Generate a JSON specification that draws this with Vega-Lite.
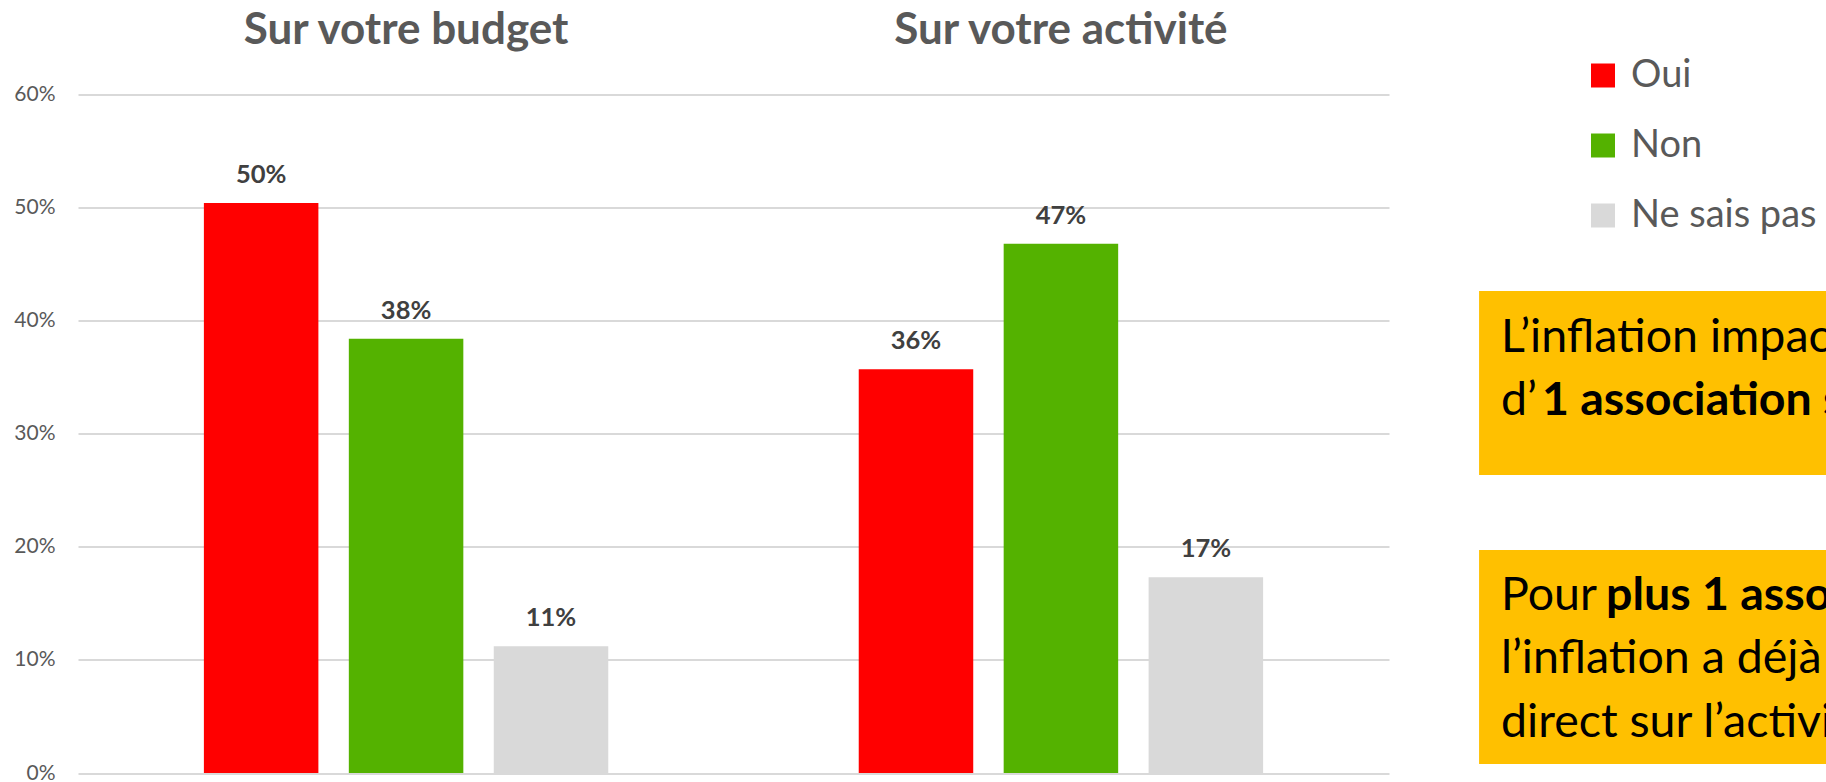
{
  "$schema": "https://vega.github.io/schema/vega-lite/v6.json",
  "autosize": {"type": "none"},
  "padding": {"left": 78, "top": 94.5, "right": 437, "bottom": 9},
  "width": 1311,
  "height": 678.5,
  "background": "white",
  "config": {"view": {"stroke": null}},
  "datasets": {
    "reponses": [
      {"cible": "Sur votre budget", "reponse": "Oui", "part": 0.504},
      {"cible": "Sur votre budget", "reponse": "Non", "part": 0.384},
      {"cible": "Sur votre budget", "reponse": "Ne sais pas", "part": 0.112},
      {"cible": "Sur votre activité", "reponse": "Oui", "part": 0.357},
      {"cible": "Sur votre activité", "reponse": "Non", "part": 0.468},
      {"cible": "Sur votre activité", "reponse": "Ne sais pas", "part": 0.173}
    ],
    "encadres": [
      {"x0": 1.0687, "x1": 1.35, "y0": 0.4262, "y1": 0.2635},
      {"x0": 1.0687, "x1": 1.35, "y0": 0.1972, "y1": 0.008}
    ],
    "lignes": [
      {"texte": "L’inflation impacte le budget", "x": 1.0854, "y": 0.3722, "gras": 0},
      {"texte": "d’", "x": 1.0854, "y": 0.3165, "gras": 0},
      {"texte": "1 association sur 2", "x": 1.1167, "y": 0.3165, "gras": 1},
      {"texte": "Pour", "x": 1.0854, "y": 0.1441, "gras": 0},
      {"texte": "plus 1 association sur 3,", "x": 1.1655, "y": 0.1441, "gras": 1},
      {"texte": "l’inflation a déjà eu un impact", "x": 1.0854, "y": 0.0884, "gras": 0},
      {"texte": "direct sur l’activité", "x": 1.0854, "y": 0.0318, "gras": 0}
    ]
  },
  "layer": [
    {
      "data": {"name": "reponses"},
      "encoding": {
        "x": {
          "field": "cible",
          "type": "nominal",
          "sort": ["Sur votre budget", "Sur votre activité"],
          "scale": {"paddingInner": 0.336, "paddingOuter": 0.169},
          "axis": {
            "orient": "top",
            "title": null,
            "ticks": false,
            "domain": false,
            "grid": false,
            "labelAngle": 0,
            "labelLimit": 0,
            "labelFont": "Lato, sans-serif",
            "labelFontSize": 44,
            "labelFontWeight": "bold",
            "labelColor": "#595959",
            "labelPadding": 51,
            "labelBaseline": "alphabetic"
          }
        },
        "xOffset": {
          "field": "reponse",
          "type": "nominal",
          "sort": ["Oui", "Non", "Ne sais pas"],
          "scale": {"paddingInner": 0.21, "paddingOuter": 0.105}
        },
        "y": {
          "field": "part",
          "type": "quantitative",
          "scale": {"domain": [0, 0.6], "nice": false},
          "axis": {
            "title": null,
            "format": ".0%",
            "values": [0, 0.1, 0.2, 0.3, 0.4, 0.5, 0.6],
            "ticks": false,
            "domain": false,
            "grid": true,
            "gridColor": "#d9d9d9",
            "gridWidth": 2,
            "labelFont": "Lato, sans-serif",
            "labelFontSize": 21,
            "labelColor": "#595959",
            "labelPadding": 23
          }
        }
      },
      "layer": [
        {
          "mark": {"type": "bar"},
          "encoding": {
            "color": {
              "field": "reponse",
              "type": "nominal",
              "sort": ["Oui", "Non", "Ne sais pas"],
              "scale": {"domain": ["Oui", "Non", "Ne sais pas"], "range": ["#ff0000", "#54b200", "#d9d9d9"]},
              "legend": {
                "title": null,
                "orient": "none",
                "legendX": 1506,
                "legendY": -38,
                "padding": 0,
                "symbolType": "square",
                "symbolSize": 576,
                "symbolStrokeWidth": 0,
                "symbolOpacity": 1,
                "labelLimit": 0,
                "labelFont": "Lato, sans-serif",
                "labelFontSize": 38,
                "labelColor": "#595959",
                "labelOffset": 9,
                "rowPadding": 32
              }
            }
          }
        },
        {
          "mark": {
            "type": "text",
            "baseline": "alphabetic",
            "dy": -20,
            "font": "Lato, sans-serif",
            "fontSize": 25.5,
            "fontWeight": "bold",
            "color": "#404040"
          },
          "encoding": {
            "text": {"field": "part", "type": "quantitative", "format": ".0%"}
          }
        }
      ]
    },
    {
      "data": {"name": "encadres"},
      "mark": {"type": "rect", "color": "#ffc000"},
      "encoding": {
        "x": {"field": "x0", "type": "quantitative", "scale": {"domain": [0, 1], "nice": false, "zero": false}, "axis": null},
        "x2": {"field": "x1"},
        "y": {"field": "y0", "type": "quantitative", "scale": {"domain": [0, 0.6], "nice": false}, "axis": null},
        "y2": {"field": "y1"}
      }
    },
    {
      "data": {"name": "lignes"},
      "transform": [{"filter": "datum.gras == 0"}],
      "mark": {"type": "text", "align": "left", "baseline": "alphabetic", "font": "Lato, sans-serif", "fontSize": 46.5, "color": "#000000"},
      "encoding": {
        "x": {"field": "x", "type": "quantitative", "scale": {"domain": [0, 1], "nice": false, "zero": false}, "axis": null},
        "y": {"field": "y", "type": "quantitative", "scale": {"domain": [0, 0.6], "nice": false}, "axis": null},
        "text": {"field": "texte"}
      }
    },
    {
      "data": {"name": "lignes"},
      "transform": [{"filter": "datum.gras == 1"}],
      "mark": {"type": "text", "align": "left", "baseline": "alphabetic", "font": "Lato, sans-serif", "fontSize": 46.5, "fontWeight": "bold", "color": "#000000"},
      "encoding": {
        "x": {"field": "x", "type": "quantitative", "scale": {"domain": [0, 1], "nice": false, "zero": false}, "axis": null},
        "y": {"field": "y", "type": "quantitative", "scale": {"domain": [0, 0.6], "nice": false}, "axis": null},
        "text": {"field": "texte"}
      }
    }
  ],
  "resolve": {"scale": {"x": "independent", "y": "independent"}}
}
